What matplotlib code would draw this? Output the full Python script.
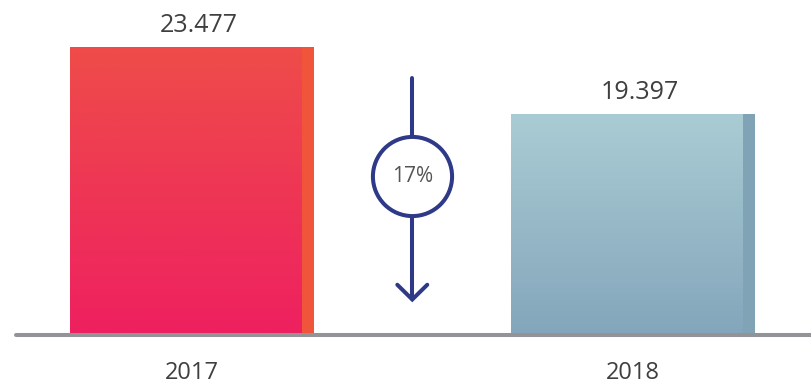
import numpy as np
import matplotlib
matplotlib.use("Agg")
import matplotlib.pyplot as plt
from matplotlib.colors import LinearSegmentedColormap
from matplotlib.patches import Rectangle
import matplotlib.transforms as mtransforms

# ---- data ----
years = ["2017", "2018"]
values = [23.477, 19.397]
value_labels = ["23.477", "19.397"]
change_label = "17%"

# ---- style ----
top_colors = ["#EE4C4A", "#A9CCD4"]
bottom_colors = ["#EE2060", "#84A6BB"]
strip_colors = ["#F0553B", "#80A3B6"]
navy = "#2E3A87"
text_color = "#3F3F3F"
axis_color = "#929497"

W, H = 811, 385
fig = plt.figure(figsize=(W / 100, H / 100), dpi=100)
ax = fig.add_axes([16 / W, 50 / H, 1 - 16 / W, 335 / H])

x = np.arange(len(years))
bar_w = 0.554
strip_w = 0.0295
y_min, y_max = 5.94, 26.34

bars = ax.bar(x, values, width=bar_w, color=strip_colors, zorder=2)
for i, b in enumerate(bars):
    cmap = LinearSegmentedColormap.from_list("g%d" % i, [bottom_colors[i], top_colors[i]])
    grad = np.linspace(0, 1, 256).reshape(-1, 1)
    left = b.get_x()
    main = Rectangle((left, 0), bar_w - strip_w, values[i], transform=ax.transData)
    im = ax.imshow(grad, cmap=cmap, origin="lower", aspect="auto",
                   extent=[left, left + bar_w - strip_w, y_min, values[i]], zorder=3)
    im.set_clip_path(main)
    ax.annotate(value_labels[i], (x[i], values[i]), xytext=(5, 6.5), textcoords="offset points",
                ha="center", va="bottom", fontsize=18, color=text_color, family="Open Sans",
                annotation_clip=False)

ax.set_xlim(-0.3995, 1.405)
ax.set_ylim(y_min, y_max)
ax.set_xticks(x)
ax.set_xticklabels(years, fontsize=17, color=text_color, family="Open Sans")
ax.tick_params(axis="x", length=0, pad=19)
ax.set_yticks([])
for s in ["top", "right", "left"]:
    ax.spines[s].set_visible(False)
ax.spines["bottom"].set_color(axis_color)
ax.spines["bottom"].set_linewidth(2.9)
ax.spines["bottom"].set_capstyle("round")
ax.spines["bottom"].set_zorder(5)

# ---- decrease arrow ----
tr = mtransforms.blended_transform_factory(ax.transData, ax.transAxes)
xm = (x[0] + x[1]) / 2
ax.plot([xm, xm], [0.767, 0.106], color=navy, lw=2.9, transform=tr, solid_capstyle="round", zorder=4)
ax.plot([xm - 0.034, xm, xm + 0.034], [0.15, 0.106, 0.15], color=navy, lw=2.9, transform=tr,
        solid_capstyle="round", solid_joinstyle="miter", zorder=4)
ax.plot([xm], [0.4746], marker="o", ms=57, mfc="white", mec=navy, mew=2.9, transform=tr, zorder=5)
ax.text(xm, 0.4746, change_label, transform=tr, ha="center", va="center", fontsize=15,
        color="#555555", family="Open Sans", zorder=6)

fig.savefig("out.png", dpi=100)
